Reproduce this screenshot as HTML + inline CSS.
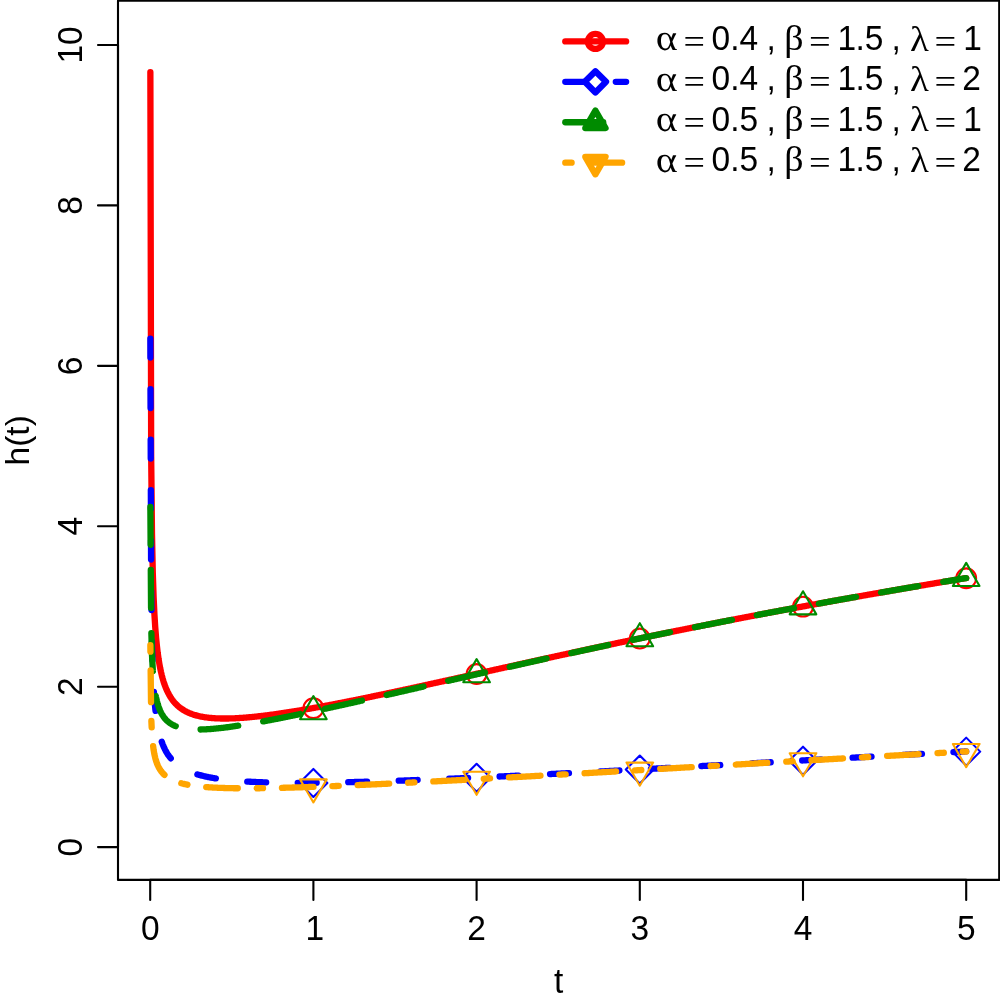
<!DOCTYPE html>
<html lang="en"><head><meta charset="utf-8"><title>h(t)</title>
<style>html,body{margin:0;padding:0;background:#fff}svg{display:block}text{font-family:"Liberation Sans",Arial,Helvetica,sans-serif;font-size:33.50px;fill:#000}.g{font-family:"Liberation Serif","DejaVu Serif",serif}</style></head><body>
<svg width="1000" height="1004" viewBox="0 0 1000 1004">
<rect x="0" y="0" width="1000" height="1004" fill="#ffffff"/>
<g fill="none" stroke-linecap="round" stroke-linejoin="round">
<polyline points="150.36,72.09 151.18,456.69 152.00,534.22 152.81,572.99 153.63,597.38 154.45,614.55 155.26,627.47 156.08,637.64 156.90,645.90 157.71,652.78 158.53,658.62 159.35,663.64 160.16,668.03 160.98,671.89 161.80,675.32 162.61,678.38 163.43,681.15 164.25,683.65 165.06,685.93 165.88,688.02 166.70,689.93 167.51,691.69 168.33,693.32 169.15,694.83 169.96,696.23 170.78,697.53 171.60,698.75 172.41,699.89 173.23,700.95 174.05,701.95 174.86,702.88 175.68,703.77 176.50,704.60 177.31,705.38 178.13,706.12 178.95,706.81 179.76,707.47 180.58,708.09 181.40,708.68 182.21,709.24 183.03,709.77 183.85,710.28 184.66,710.75 185.48,711.20 186.30,711.63 187.11,712.04 187.93,712.43 188.75,712.80 189.56,713.15 190.38,713.48 191.20,713.79 192.01,714.09 192.83,714.38 193.65,714.65 194.46,714.91 195.28,715.15 196.10,715.38 196.91,715.60 197.73,715.81 198.55,716.01 199.36,716.20 200.18,716.38 201.00,716.54 201.81,716.70 202.63,716.85 203.45,717.00 204.26,717.13 205.08,717.26 205.90,717.37 206.71,717.49 207.53,717.59 208.35,717.69 209.16,717.78 209.98,717.86 210.80,717.94 211.61,718.01 212.43,718.08 213.25,718.14 214.06,718.20 214.88,718.25 215.70,718.30 216.51,718.34 217.33,718.38 218.15,718.41 218.96,718.44 219.78,718.46 220.60,718.48 221.41,718.50 222.23,718.51 223.05,718.52 223.86,718.52 224.68,718.52 225.50,718.52 226.31,718.51 227.13,718.50 227.95,718.49 228.76,718.47 229.58,718.45 230.40,718.43 231.21,718.41 232.03,718.38 232.85,718.35 233.66,718.32 234.48,718.28 235.30,718.24 236.11,718.20 236.93,718.16 237.75,718.12 238.56,718.07 239.38,718.02 240.20,717.97 241.01,717.91 241.83,717.86 242.65,717.80 243.46,717.74 244.28,717.68 245.10,717.61 245.91,717.55 246.73,717.48 247.54,717.41 248.36,717.34 249.18,717.26 249.99,717.19 250.81,717.11 251.63,717.03 252.44,716.95 253.26,716.87 254.08,716.79 254.89,716.71 255.71,716.62 256.53,716.53 257.34,716.44 258.16,716.35 258.98,716.26 259.79,716.17 260.61,716.08 261.43,715.98 262.24,715.88 263.06,715.79 263.88,715.69 264.69,715.59 265.51,715.48 266.33,715.38 267.14,715.28 267.96,715.17 268.78,715.07 269.59,714.96 270.41,714.85 271.23,714.74 272.04,714.63 272.86,714.52 273.68,714.41 274.49,714.30 275.31,714.18 276.13,714.07 276.94,713.95 277.76,713.83 278.58,713.72 279.39,713.60 280.21,713.48 281.03,713.36 281.84,713.24 282.66,713.11 283.48,712.99 284.29,712.87 285.11,712.74 285.93,712.62 286.74,712.49 287.56,712.37 288.38,712.24 289.19,712.11 290.01,711.98 290.83,711.85 291.64,711.72 292.46,711.59 293.28,711.46 294.09,711.33 294.91,711.19 295.73,711.06 296.54,710.92 297.36,710.79 298.18,710.65 298.99,710.52 299.81,710.38 300.63,710.24 301.44,710.10 302.26,709.97 303.08,709.83 303.89,709.69 304.71,709.55 305.53,709.40 306.34,709.26 307.16,709.12 307.98,708.98 308.79,708.84 309.61,708.69 310.43,708.55 311.24,708.40 312.06,708.26 312.88,708.11 313.69,707.97 314.51,707.82 315.33,707.67 316.14,707.52 316.96,707.38 317.78,707.23 318.59,707.08 319.41,706.93 320.23,706.78 321.04,706.63 321.86,706.48 322.68,706.33 323.49,706.17 324.31,706.02 325.13,705.87 325.94,705.72 326.76,705.56 327.58,705.41 328.39,705.26 329.21,705.10 330.03,704.95 330.84,704.79 331.66,704.64 332.48,704.48 333.29,704.32 334.11,704.17 334.93,704.01 335.74,703.85 336.56,703.69 337.38,703.54 338.19,703.38 339.01,703.22 339.83,703.06 340.64,702.90 341.46,702.74 342.28,702.58 343.09,702.42 343.91,702.26 344.73,702.10 345.54,701.94 346.36,701.78 347.18,701.61 347.99,701.45 348.81,701.29 349.63,701.13 350.44,700.96 351.26,700.80 352.08,700.64 352.89,700.47 353.71,700.31 354.53,700.14 355.34,699.98 356.16,699.81 356.98,699.65 357.79,699.48 358.61,699.32 359.43,699.15 360.24,698.98 361.06,698.82 361.88,698.65 362.69,698.48 363.51,698.32 364.33,698.15 365.14,697.98 365.96,697.81 366.78,697.64 367.59,697.48 368.41,697.31 369.23,697.14 370.04,696.97 370.86,696.80 371.68,696.63 372.49,696.46 373.31,696.29 374.13,696.12 374.94,695.95 375.76,695.78 376.58,695.61 377.39,695.44 378.21,695.27 379.03,695.10 379.84,694.92 380.66,694.75 381.48,694.58 382.29,694.41 383.11,694.24 383.93,694.06 384.74,693.89 385.56,693.72 386.38,693.55 387.19,693.37 388.01,693.20 388.83,693.03 389.64,692.85 390.46,692.68 391.28,692.50 392.09,692.33 392.91,692.16 393.73,691.98 394.54,691.81 395.36,691.63 396.18,691.46 396.99,691.28 397.81,691.11 398.63,690.93 399.44,690.76 400.26,690.58 401.08,690.40 401.89,690.23 402.71,690.05 403.53,689.88 404.34,689.70 405.16,689.52 405.98,689.35 406.79,689.17 407.61,688.99 408.43,688.82 409.24,688.64 410.06,688.46 410.88,688.29 411.69,688.11 412.51,687.93 413.33,687.75 414.14,687.58 414.96,687.40 415.78,687.22 416.59,687.04 417.41,686.87 418.23,686.69 419.04,686.51 419.86,686.33 420.68,686.15 421.49,685.97 422.31,685.80 423.13,685.62 423.94,685.44 424.76,685.26 425.58,685.08 426.39,684.90 427.21,684.72 428.03,684.54 428.84,684.36 429.66,684.18 430.48,684.00 431.29,683.82 432.11,683.65 432.93,683.47 433.74,683.29 434.56,683.11 435.38,682.93 436.19,682.75 437.01,682.57 437.83,682.39 438.64,682.21 439.46,682.03 440.28,681.85 441.09,681.67 441.91,681.48 442.73,681.30 443.54,681.12 444.36,680.94 445.18,680.76 445.99,680.58 446.81,680.40 447.63,680.22 448.44,680.04 449.26,679.86 450.08,679.68 450.89,679.50 451.71,679.32 452.52,679.14 453.34,678.95 454.16,678.77 454.97,678.59 455.79,678.41 456.61,678.23 457.42,678.05 458.24,677.87 459.06,677.69 459.87,677.51 460.69,677.32 461.51,677.14 462.32,676.96 463.14,676.78 463.96,676.60 464.77,676.42 465.59,676.24 466.41,676.05 467.22,675.87 468.04,675.69 468.86,675.51 469.67,675.33 470.49,675.15 471.31,674.96 472.12,674.78 472.94,674.60 473.76,674.42 474.57,674.24 475.39,674.06 476.21,673.88 477.02,673.69 477.84,673.51 478.66,673.33 479.47,673.15 480.29,672.97 481.11,672.79 481.92,672.60 482.74,672.42 483.56,672.24 484.37,672.06 485.19,671.88 486.01,671.70 486.82,671.51 487.64,671.33 488.46,671.15 489.27,670.97 490.09,670.79 490.91,670.61 491.72,670.42 492.54,670.24 493.36,670.06 494.17,669.88 494.99,669.70 495.81,669.52 496.62,669.33 497.44,669.15 498.26,668.97 499.07,668.79 499.89,668.61 500.71,668.43 501.52,668.25 502.34,668.06 503.16,667.88 503.97,667.70 504.79,667.52 505.61,667.34 506.42,667.16 507.24,666.98 508.06,666.80 508.87,666.61 509.69,666.43 510.51,666.25 511.32,666.07 512.14,665.89 512.96,665.71 513.77,665.53 514.59,665.35 515.41,665.17 516.22,664.99 517.04,664.80 517.86,664.62 518.67,664.44 519.49,664.26 520.31,664.08 521.12,663.90 521.94,663.72 522.76,663.54 523.57,663.36 524.39,663.18 525.21,663.00 526.02,662.82 526.84,662.64 527.66,662.46 528.47,662.28 529.29,662.10 530.11,661.92 530.92,661.74 531.74,661.56 532.56,661.38 533.37,661.20 534.19,661.02 535.01,660.84 535.82,660.66 536.64,660.48 537.46,660.30 538.27,660.12 539.09,659.94 539.91,659.76 540.72,659.58 541.54,659.40 542.36,659.22 543.17,659.04 543.99,658.86 544.81,658.68 545.62,658.50 546.44,658.32 547.26,658.15 548.07,657.97 548.89,657.79 549.71,657.61 550.52,657.43 551.34,657.25 552.16,657.07 552.97,656.89 553.79,656.72 554.61,656.54 555.42,656.36 556.24,656.18 557.06,656.00 557.87,655.82 558.69,655.65 559.51,655.47 560.32,655.29 561.14,655.11 561.96,654.93 562.77,654.76 563.59,654.58 564.41,654.40 565.22,654.22 566.04,654.05 566.86,653.87 567.67,653.69 568.49,653.51 569.31,653.34 570.12,653.16 570.94,652.98 571.76,652.81 572.57,652.63 573.39,652.45 574.21,652.28 575.02,652.10 575.84,651.92 576.66,651.75 577.47,651.57 578.29,651.39 579.11,651.22 579.92,651.04 580.74,650.87 581.56,650.69 582.37,650.51 583.19,650.34 584.01,650.16 584.82,649.99 585.64,649.81 586.46,649.63 587.27,649.46 588.09,649.28 588.91,649.11 589.72,648.93 590.54,648.76 591.36,648.58 592.17,648.41 592.99,648.23 593.81,648.06 594.62,647.88 595.44,647.71 596.26,647.53 597.07,647.36 597.89,647.19 598.71,647.01 599.52,646.84 600.34,646.66 601.16,646.49 601.97,646.32 602.79,646.14 603.61,645.97 604.42,645.79 605.24,645.62 606.06,645.45 606.87,645.27 607.69,645.10 608.51,644.93 609.32,644.75 610.14,644.58 610.96,644.41 611.77,644.24 612.59,644.06 613.41,643.89 614.22,643.72 615.04,643.55 615.86,643.37 616.67,643.20 617.49,643.03 618.31,642.86 619.12,642.68 619.94,642.51 620.76,642.34 621.57,642.17 622.39,642.00 623.21,641.83 624.02,641.65 624.84,641.48 625.66,641.31 626.47,641.14 627.29,640.97 628.11,640.80 628.92,640.63 629.74,640.46 630.56,640.29 631.37,640.12 632.19,639.95 633.01,639.77 633.82,639.60 634.64,639.43 635.46,639.26 636.27,639.09 637.09,638.92 637.91,638.75 638.72,638.58 639.54,638.41 640.36,638.25 641.17,638.08 641.99,637.91 642.81,637.74 643.62,637.57 644.44,637.40 645.26,637.23 646.07,637.06 646.89,636.89 647.71,636.72 648.52,636.56 649.34,636.39 650.16,636.22 650.97,636.05 651.79,635.88 652.61,635.71 653.42,635.55 654.24,635.38 655.06,635.21 655.87,635.04 656.69,634.88 657.50,634.71 658.32,634.54 659.14,634.37 659.95,634.21 660.77,634.04 661.59,633.87 662.40,633.71 663.22,633.54 664.04,633.37 664.85,633.21 665.67,633.04 666.49,632.87 667.30,632.71 668.12,632.54 668.94,632.37 669.75,632.21 670.57,632.04 671.39,631.88 672.20,631.71 673.02,631.54 673.84,631.38 674.65,631.21 675.47,631.05 676.29,630.88 677.10,630.72 677.92,630.55 678.74,630.39 679.55,630.22 680.37,630.06 681.19,629.89 682.00,629.73 682.82,629.57 683.64,629.40 684.45,629.24 685.27,629.07 686.09,628.91 686.90,628.75 687.72,628.58 688.54,628.42 689.35,628.25 690.17,628.09 690.99,627.93 691.80,627.76 692.62,627.60 693.44,627.44 694.25,627.27 695.07,627.11 695.89,626.95 696.70,626.79 697.52,626.62 698.34,626.46 699.15,626.30 699.97,626.14 700.79,625.97 701.60,625.81 702.42,625.65 703.24,625.49 704.05,625.33 704.87,625.17 705.69,625.00 706.50,624.84 707.32,624.68 708.14,624.52 708.95,624.36 709.77,624.20 710.59,624.04 711.40,623.88 712.22,623.71 713.04,623.55 713.85,623.39 714.67,623.23 715.49,623.07 716.30,622.91 717.12,622.75 717.94,622.59 718.75,622.43 719.57,622.27 720.39,622.11 721.20,621.95 722.02,621.79 722.84,621.63 723.65,621.47 724.47,621.31 725.29,621.16 726.10,621.00 726.92,620.84 727.74,620.68 728.55,620.52 729.37,620.36 730.19,620.20 731.00,620.04 731.82,619.89 732.64,619.73 733.45,619.57 734.27,619.41 735.09,619.25 735.90,619.10 736.72,618.94 737.54,618.78 738.35,618.62 739.17,618.46 739.99,618.31 740.80,618.15 741.62,617.99 742.44,617.84 743.25,617.68 744.07,617.52 744.89,617.36 745.70,617.21 746.52,617.05 747.34,616.89 748.15,616.74 748.97,616.58 749.79,616.43 750.60,616.27 751.42,616.11 752.24,615.96 753.05,615.80 753.87,615.65 754.69,615.49 755.50,615.33 756.32,615.18 757.14,615.02 757.95,614.87 758.77,614.71 759.59,614.56 760.40,614.40 761.22,614.25 762.04,614.09 762.85,613.94 763.67,613.78 764.49,613.63 765.30,613.47 766.12,613.32 766.94,613.17 767.75,613.01 768.57,612.86 769.39,612.70 770.20,612.55 771.02,612.40 771.84,612.24 772.65,612.09 773.47,611.94 774.29,611.78 775.10,611.63 775.92,611.48 776.74,611.32 777.55,611.17 778.37,611.02 779.19,610.86 780.00,610.71 780.82,610.56 781.64,610.41 782.45,610.25 783.27,610.10 784.09,609.95 784.90,609.80 785.72,609.64 786.54,609.49 787.35,609.34 788.17,609.19 788.99,609.04 789.80,608.88 790.62,608.73 791.44,608.58 792.25,608.43 793.07,608.28 793.89,608.13 794.70,607.98 795.52,607.83 796.34,607.67 797.15,607.52 797.97,607.37 798.79,607.22 799.60,607.07 800.42,606.92 801.24,606.77 802.05,606.62 802.87,606.47 803.69,606.32 804.50,606.17 805.32,606.02 806.14,605.87 806.95,605.72 807.77,605.57 808.59,605.42 809.40,605.27 810.22,605.12 811.04,604.97 811.85,604.82 812.67,604.67 813.49,604.52 814.30,604.38 815.12,604.23 815.94,604.08 816.75,603.93 817.57,603.78 818.39,603.63 819.20,603.48 820.02,603.34 820.84,603.19 821.65,603.04 822.47,602.89 823.29,602.74 824.10,602.60 824.92,602.45 825.74,602.30 826.55,602.15 827.37,602.00 828.19,601.86 829.00,601.71 829.82,601.56 830.64,601.41 831.45,601.27 832.27,601.12 833.09,600.97 833.90,600.83 834.72,600.68 835.54,600.53 836.35,600.39 837.17,600.24 837.99,600.09 838.80,599.95 839.62,599.80 840.44,599.65 841.25,599.51 842.07,599.36 842.89,599.22 843.70,599.07 844.52,598.92 845.34,598.78 846.15,598.63 846.97,598.49 847.79,598.34 848.60,598.20 849.42,598.05 850.24,597.91 851.05,597.76 851.87,597.62 852.69,597.47 853.50,597.33 854.32,597.18 855.14,597.04 855.95,596.89 856.77,596.75 857.59,596.60 858.40,596.46 859.22,596.31 860.04,596.17 860.85,596.03 861.67,595.88 862.49,595.74 863.30,595.59 864.12,595.45 864.93,595.31 865.75,595.16 866.57,595.02 867.38,594.87 868.20,594.73 869.02,594.59 869.83,594.44 870.65,594.30 871.47,594.16 872.28,594.02 873.10,593.87 873.92,593.73 874.73,593.59 875.55,593.44 876.37,593.30 877.18,593.16 878.00,593.02 878.82,592.87 879.63,592.73 880.45,592.59 881.27,592.45 882.08,592.31 882.90,592.16 883.72,592.02 884.53,591.88 885.35,591.74 886.17,591.60 886.98,591.45 887.80,591.31 888.62,591.17 889.43,591.03 890.25,590.89 891.07,590.75 891.88,590.61 892.70,590.46 893.52,590.32 894.33,590.18 895.15,590.04 895.97,589.90 896.78,589.76 897.60,589.62 898.42,589.48 899.23,589.34 900.05,589.20 900.87,589.06 901.68,588.92 902.50,588.78 903.32,588.64 904.13,588.50 904.95,588.36 905.77,588.22 906.58,588.08 907.40,587.94 908.22,587.80 909.03,587.66 909.85,587.52 910.67,587.38 911.48,587.24 912.30,587.10 913.12,586.96 913.93,586.82 914.75,586.68 915.57,586.54 916.38,586.41 917.20,586.27 918.02,586.13 918.83,585.99 919.65,585.85 920.47,585.71 921.28,585.57 922.10,585.44 922.92,585.30 923.73,585.16 924.55,585.02 925.37,584.88 926.18,584.74 927.00,584.61 927.82,584.47 928.63,584.33 929.45,584.19 930.27,584.06 931.08,583.92 931.90,583.78 932.72,583.64 933.53,583.51 934.35,583.37 935.17,583.23 935.98,583.09 936.80,582.96 937.62,582.82 938.43,582.68 939.25,582.55 940.07,582.41 940.88,582.27 941.70,582.14 942.52,582.00 943.33,581.86 944.15,581.73 944.97,581.59 945.78,581.45 946.60,581.32 947.42,581.18 948.23,581.04 949.05,580.91 949.87,580.77 950.68,580.64 951.50,580.50 952.32,580.36 953.13,580.23 953.95,580.09 954.77,579.96 955.58,579.82 956.40,579.69 957.22,579.55 958.03,579.42 958.85,579.28 959.67,579.15 960.48,579.01 961.30,578.88 962.12,578.74 962.93,578.61 963.75,578.47 964.57,578.34 965.38,578.20 966.20,578.07" stroke="#ff0000" stroke-width="6.313"/>
<circle cx="313.40" cy="708.22" r="9.90" fill="none" stroke="#ff0000" stroke-width="2.104" stroke-linejoin="round" stroke-linecap="round"/>
<circle cx="476.60" cy="673.99" r="9.90" fill="none" stroke="#ff0000" stroke-width="2.104" stroke-linejoin="round" stroke-linecap="round"/>
<circle cx="639.80" cy="638.56" r="9.90" fill="none" stroke="#ff0000" stroke-width="2.104" stroke-linejoin="round" stroke-linecap="round"/>
<circle cx="803.00" cy="606.65" r="9.90" fill="none" stroke="#ff0000" stroke-width="2.104" stroke-linejoin="round" stroke-linecap="round"/>
<circle cx="966.20" cy="578.27" r="9.90" fill="none" stroke="#ff0000" stroke-width="2.104" stroke-linejoin="round" stroke-linecap="round"/>
<polyline points="150.36,338.56 151.18,593.67 152.00,645.48 152.81,671.54 153.63,688.03 154.45,699.69 155.26,708.52 156.08,715.51 156.90,721.22 157.71,726.00 158.53,730.08 159.35,733.61 160.16,736.71 160.98,739.45 161.80,741.91 162.61,744.12 163.43,746.12 164.25,747.95 165.06,749.62 165.88,751.16 166.70,752.59 167.51,753.91 168.33,755.14 169.15,756.28 169.96,757.36 170.78,758.36 171.60,759.31 172.41,760.20 173.23,761.04 174.05,761.84 174.86,762.60 175.68,763.31 176.50,763.99 177.31,764.64 178.13,765.26 178.95,765.85 179.76,766.41 180.58,766.95 181.40,767.46 182.21,767.95 183.03,768.42 183.85,768.88 184.66,769.31 185.48,769.73 186.30,770.13 187.11,770.52 187.93,770.89 188.75,771.25 189.56,771.60 190.38,771.93 191.20,772.25 192.01,772.56 192.83,772.87 193.65,773.16 194.46,773.44 195.28,773.71 196.10,773.97 196.91,774.23 197.73,774.48 198.55,774.71 199.36,774.95 200.18,775.17 201.00,775.39 201.81,775.60 202.63,775.81 203.45,776.01 204.26,776.20 205.08,776.39 205.90,776.57 206.71,776.75 207.53,776.92 208.35,777.09 209.16,777.25 209.98,777.41 210.80,777.57 211.61,777.72 212.43,777.86 213.25,778.01 214.06,778.14 214.88,778.28 215.70,778.41 216.51,778.54 217.33,778.66 218.15,778.78 218.96,778.90 219.78,779.02 220.60,779.13 221.41,779.24 222.23,779.35 223.05,779.45 223.86,779.55 224.68,779.65 225.50,779.75 226.31,779.84 227.13,779.93 227.95,780.02 228.76,780.11 229.58,780.19 230.40,780.27 231.21,780.35 232.03,780.43 232.85,780.51 233.66,780.58 234.48,780.65 235.30,780.73 236.11,780.79 236.93,780.86 237.75,780.93 238.56,780.99 239.38,781.05 240.20,781.11 241.01,781.17 241.83,781.23 242.65,781.29 243.46,781.34 244.28,781.39 245.10,781.45 245.91,781.50 246.73,781.55 247.54,781.59 248.36,781.64 249.18,781.69 249.99,781.73 250.81,781.77 251.63,781.81 252.44,781.85 253.26,781.89 254.08,781.93 254.89,781.97 255.71,782.01 256.53,782.04 257.34,782.08 258.16,782.11 258.98,782.14 259.79,782.17 260.61,782.20 261.43,782.23 262.24,782.26 263.06,782.29 263.88,782.31 264.69,782.34 265.51,782.36 266.33,782.39 267.14,782.41 267.96,782.43 268.78,782.46 269.59,782.48 270.41,782.50 271.23,782.52 272.04,782.54 272.86,782.55 273.68,782.57 274.49,782.59 275.31,782.60 276.13,782.62 276.94,782.63 277.76,782.65 278.58,782.66 279.39,782.67 280.21,782.69 281.03,782.70 281.84,782.71 282.66,782.72 283.48,782.73 284.29,782.74 285.11,782.74 285.93,782.75 286.74,782.76 287.56,782.77 288.38,782.77 289.19,782.78 290.01,782.78 290.83,782.79 291.64,782.79 292.46,782.80 293.28,782.80 294.09,782.80 294.91,782.81 295.73,782.81 296.54,782.81 297.36,782.81 298.18,782.81 298.99,782.81 299.81,782.81 300.63,782.81 301.44,782.81 302.26,782.81 303.08,782.80 303.89,782.80 304.71,782.80 305.53,782.80 306.34,782.79 307.16,782.79 307.98,782.78 308.79,782.78 309.61,782.77 310.43,782.77 311.24,782.76 312.06,782.76 312.88,782.75 313.69,782.74 314.51,782.73 315.33,782.73 316.14,782.72 316.96,782.71 317.78,782.70 318.59,782.69 319.41,782.68 320.23,782.67 321.04,782.66 321.86,782.65 322.68,782.64 323.49,782.63 324.31,782.62 325.13,782.61 325.94,782.60 326.76,782.59 327.58,782.57 328.39,782.56 329.21,782.55 330.03,782.54 330.84,782.52 331.66,782.51 332.48,782.50 333.29,782.48 334.11,782.47 334.93,782.45 335.74,782.44 336.56,782.42 337.38,782.41 338.19,782.39 339.01,782.38 339.83,782.36 340.64,782.34 341.46,782.33 342.28,782.31 343.09,782.29 343.91,782.27 344.73,782.26 345.54,782.24 346.36,782.22 347.18,782.20 347.99,782.19 348.81,782.17 349.63,782.15 350.44,782.13 351.26,782.11 352.08,782.09 352.89,782.07 353.71,782.05 354.53,782.03 355.34,782.01 356.16,781.99 356.98,781.97 357.79,781.95 358.61,781.93 359.43,781.91 360.24,781.89 361.06,781.86 361.88,781.84 362.69,781.82 363.51,781.80 364.33,781.78 365.14,781.75 365.96,781.73 366.78,781.71 367.59,781.69 368.41,781.66 369.23,781.64 370.04,781.62 370.86,781.59 371.68,781.57 372.49,781.54 373.31,781.52 374.13,781.50 374.94,781.47 375.76,781.45 376.58,781.42 377.39,781.40 378.21,781.37 379.03,781.35 379.84,781.32 380.66,781.30 381.48,781.27 382.29,781.25 383.11,781.22 383.93,781.19 384.74,781.17 385.56,781.14 386.38,781.12 387.19,781.09 388.01,781.06 388.83,781.04 389.64,781.01 390.46,780.98 391.28,780.95 392.09,780.93 392.91,780.90 393.73,780.87 394.54,780.84 395.36,780.82 396.18,780.79 396.99,780.76 397.81,780.73 398.63,780.70 399.44,780.68 400.26,780.65 401.08,780.62 401.89,780.59 402.71,780.56 403.53,780.53 404.34,780.50 405.16,780.47 405.98,780.44 406.79,780.41 407.61,780.38 408.43,780.35 409.24,780.33 410.06,780.30 410.88,780.27 411.69,780.24 412.51,780.20 413.33,780.17 414.14,780.14 414.96,780.11 415.78,780.08 416.59,780.05 417.41,780.02 418.23,779.99 419.04,779.96 419.86,779.93 420.68,779.90 421.49,779.87 422.31,779.83 423.13,779.80 423.94,779.77 424.76,779.74 425.58,779.71 426.39,779.68 427.21,779.64 428.03,779.61 428.84,779.58 429.66,779.55 430.48,779.51 431.29,779.48 432.11,779.45 432.93,779.42 433.74,779.38 434.56,779.35 435.38,779.32 436.19,779.29 437.01,779.25 437.83,779.22 438.64,779.19 439.46,779.15 440.28,779.12 441.09,779.09 441.91,779.05 442.73,779.02 443.54,778.98 444.36,778.95 445.18,778.92 445.99,778.88 446.81,778.85 447.63,778.82 448.44,778.78 449.26,778.75 450.08,778.71 450.89,778.68 451.71,778.64 452.52,778.61 453.34,778.57 454.16,778.54 454.97,778.50 455.79,778.47 456.61,778.44 457.42,778.40 458.24,778.36 459.06,778.33 459.87,778.29 460.69,778.26 461.51,778.22 462.32,778.19 463.14,778.15 463.96,778.12 464.77,778.08 465.59,778.05 466.41,778.01 467.22,777.97 468.04,777.94 468.86,777.90 469.67,777.87 470.49,777.83 471.31,777.79 472.12,777.76 472.94,777.72 473.76,777.69 474.57,777.65 475.39,777.61 476.21,777.58 477.02,777.54 477.84,777.50 478.66,777.47 479.47,777.43 480.29,777.39 481.11,777.36 481.92,777.32 482.74,777.28 483.56,777.25 484.37,777.21 485.19,777.17 486.01,777.13 486.82,777.10 487.64,777.06 488.46,777.02 489.27,776.98 490.09,776.95 490.91,776.91 491.72,776.87 492.54,776.83 493.36,776.80 494.17,776.76 494.99,776.72 495.81,776.68 496.62,776.64 497.44,776.61 498.26,776.57 499.07,776.53 499.89,776.49 500.71,776.45 501.52,776.42 502.34,776.38 503.16,776.34 503.97,776.30 504.79,776.26 505.61,776.22 506.42,776.19 507.24,776.15 508.06,776.11 508.87,776.07 509.69,776.03 510.51,775.99 511.32,775.95 512.14,775.91 512.96,775.88 513.77,775.84 514.59,775.80 515.41,775.76 516.22,775.72 517.04,775.68 517.86,775.64 518.67,775.60 519.49,775.56 520.31,775.52 521.12,775.48 521.94,775.44 522.76,775.41 523.57,775.37 524.39,775.33 525.21,775.29 526.02,775.25 526.84,775.21 527.66,775.17 528.47,775.13 529.29,775.09 530.11,775.05 530.92,775.01 531.74,774.97 532.56,774.93 533.37,774.89 534.19,774.85 535.01,774.81 535.82,774.77 536.64,774.73 537.46,774.69 538.27,774.65 539.09,774.61 539.91,774.57 540.72,774.53 541.54,774.49 542.36,774.45 543.17,774.41 543.99,774.36 544.81,774.32 545.62,774.28 546.44,774.24 547.26,774.20 548.07,774.16 548.89,774.12 549.71,774.08 550.52,774.04 551.34,774.00 552.16,773.96 552.97,773.92 553.79,773.88 554.61,773.83 555.42,773.79 556.24,773.75 557.06,773.71 557.87,773.67 558.69,773.63 559.51,773.59 560.32,773.55 561.14,773.51 561.96,773.46 562.77,773.42 563.59,773.38 564.41,773.34 565.22,773.30 566.04,773.26 566.86,773.22 567.67,773.17 568.49,773.13 569.31,773.09 570.12,773.05 570.94,773.01 571.76,772.97 572.57,772.93 573.39,772.88 574.21,772.84 575.02,772.80 575.84,772.76 576.66,772.72 577.47,772.67 578.29,772.63 579.11,772.59 579.92,772.55 580.74,772.51 581.56,772.46 582.37,772.42 583.19,772.38 584.01,772.34 584.82,772.30 585.64,772.25 586.46,772.21 587.27,772.17 588.09,772.13 588.91,772.09 589.72,772.04 590.54,772.00 591.36,771.96 592.17,771.92 592.99,771.87 593.81,771.83 594.62,771.79 595.44,771.75 596.26,771.70 597.07,771.66 597.89,771.62 598.71,771.58 599.52,771.53 600.34,771.49 601.16,771.45 601.97,771.41 602.79,771.36 603.61,771.32 604.42,771.28 605.24,771.23 606.06,771.19 606.87,771.15 607.69,771.11 608.51,771.06 609.32,771.02 610.14,770.98 610.96,770.93 611.77,770.89 612.59,770.85 613.41,770.81 614.22,770.76 615.04,770.72 615.86,770.68 616.67,770.63 617.49,770.59 618.31,770.55 619.12,770.50 619.94,770.46 620.76,770.42 621.57,770.37 622.39,770.33 623.21,770.29 624.02,770.24 624.84,770.20 625.66,770.16 626.47,770.11 627.29,770.07 628.11,770.03 628.92,769.98 629.74,769.94 630.56,769.90 631.37,769.85 632.19,769.81 633.01,769.77 633.82,769.72 634.64,769.68 635.46,769.64 636.27,769.59 637.09,769.55 637.91,769.51 638.72,769.46 639.54,769.42 640.36,769.37 641.17,769.33 641.99,769.29 642.81,769.24 643.62,769.20 644.44,769.16 645.26,769.11 646.07,769.07 646.89,769.02 647.71,768.98 648.52,768.94 649.34,768.89 650.16,768.85 650.97,768.81 651.79,768.76 652.61,768.72 653.42,768.67 654.24,768.63 655.06,768.59 655.87,768.54 656.69,768.50 657.50,768.45 658.32,768.41 659.14,768.37 659.95,768.32 660.77,768.28 661.59,768.23 662.40,768.19 663.22,768.14 664.04,768.10 664.85,768.06 665.67,768.01 666.49,767.97 667.30,767.92 668.12,767.88 668.94,767.84 669.75,767.79 670.57,767.75 671.39,767.70 672.20,767.66 673.02,767.61 673.84,767.57 674.65,767.52 675.47,767.48 676.29,767.44 677.10,767.39 677.92,767.35 678.74,767.30 679.55,767.26 680.37,767.21 681.19,767.17 682.00,767.13 682.82,767.08 683.64,767.04 684.45,766.99 685.27,766.95 686.09,766.90 686.90,766.86 687.72,766.81 688.54,766.77 689.35,766.72 690.17,766.68 690.99,766.63 691.80,766.59 692.62,766.55 693.44,766.50 694.25,766.46 695.07,766.41 695.89,766.37 696.70,766.32 697.52,766.28 698.34,766.23 699.15,766.19 699.97,766.14 700.79,766.10 701.60,766.05 702.42,766.01 703.24,765.96 704.05,765.92 704.87,765.87 705.69,765.83 706.50,765.79 707.32,765.74 708.14,765.70 708.95,765.65 709.77,765.61 710.59,765.56 711.40,765.52 712.22,765.47 713.04,765.43 713.85,765.38 714.67,765.34 715.49,765.29 716.30,765.25 717.12,765.20 717.94,765.16 718.75,765.11 719.57,765.07 720.39,765.02 721.20,764.98 722.02,764.93 722.84,764.89 723.65,764.84 724.47,764.80 725.29,764.75 726.10,764.71 726.92,764.66 727.74,764.62 728.55,764.57 729.37,764.53 730.19,764.48 731.00,764.44 731.82,764.39 732.64,764.35 733.45,764.30 734.27,764.26 735.09,764.21 735.90,764.17 736.72,764.12 737.54,764.08 738.35,764.03 739.17,763.99 739.99,763.94 740.80,763.90 741.62,763.85 742.44,763.81 743.25,763.76 744.07,763.71 744.89,763.67 745.70,763.62 746.52,763.58 747.34,763.53 748.15,763.49 748.97,763.44 749.79,763.40 750.60,763.35 751.42,763.31 752.24,763.26 753.05,763.22 753.87,763.17 754.69,763.13 755.50,763.08 756.32,763.04 757.14,762.99 757.95,762.95 758.77,762.90 759.59,762.86 760.40,762.81 761.22,762.76 762.04,762.72 762.85,762.67 763.67,762.63 764.49,762.58 765.30,762.54 766.12,762.49 766.94,762.45 767.75,762.40 768.57,762.36 769.39,762.31 770.20,762.27 771.02,762.22 771.84,762.18 772.65,762.13 773.47,762.09 774.29,762.04 775.10,761.99 775.92,761.95 776.74,761.90 777.55,761.86 778.37,761.81 779.19,761.77 780.00,761.72 780.82,761.68 781.64,761.63 782.45,761.59 783.27,761.54 784.09,761.50 784.90,761.45 785.72,761.40 786.54,761.36 787.35,761.31 788.17,761.27 788.99,761.22 789.80,761.18 790.62,761.13 791.44,761.09 792.25,761.04 793.07,761.00 793.89,760.95 794.70,760.91 795.52,760.86 796.34,760.81 797.15,760.77 797.97,760.72 798.79,760.68 799.60,760.63 800.42,760.59 801.24,760.54 802.05,760.50 802.87,760.45 803.69,760.41 804.50,760.36 805.32,760.31 806.14,760.27 806.95,760.22 807.77,760.18 808.59,760.13 809.40,760.09 810.22,760.04 811.04,760.00 811.85,759.95 812.67,759.91 813.49,759.86 814.30,759.82 815.12,759.77 815.94,759.72 816.75,759.68 817.57,759.63 818.39,759.59 819.20,759.54 820.02,759.50 820.84,759.45 821.65,759.41 822.47,759.36 823.29,759.32 824.10,759.27 824.92,759.22 825.74,759.18 826.55,759.13 827.37,759.09 828.19,759.04 829.00,759.00 829.82,758.95 830.64,758.91 831.45,758.86 832.27,758.82 833.09,758.77 833.90,758.73 834.72,758.68 835.54,758.63 836.35,758.59 837.17,758.54 837.99,758.50 838.80,758.45 839.62,758.41 840.44,758.36 841.25,758.32 842.07,758.27 842.89,758.23 843.70,758.18 844.52,758.14 845.34,758.09 846.15,758.04 846.97,758.00 847.79,757.95 848.60,757.91 849.42,757.86 850.24,757.82 851.05,757.77 851.87,757.73 852.69,757.68 853.50,757.64 854.32,757.59 855.14,757.55 855.95,757.50 856.77,757.46 857.59,757.41 858.40,757.36 859.22,757.32 860.04,757.27 860.85,757.23 861.67,757.18 862.49,757.14 863.30,757.09 864.12,757.05 864.93,757.00 865.75,756.96 866.57,756.91 867.38,756.87 868.20,756.82 869.02,756.78 869.83,756.73 870.65,756.69 871.47,756.64 872.28,756.59 873.10,756.55 873.92,756.50 874.73,756.46 875.55,756.41 876.37,756.37 877.18,756.32 878.00,756.28 878.82,756.23 879.63,756.19 880.45,756.14 881.27,756.10 882.08,756.05 882.90,756.01 883.72,755.96 884.53,755.92 885.35,755.87 886.17,755.83 886.98,755.78 887.80,755.74 888.62,755.69 889.43,755.64 890.25,755.60 891.07,755.55 891.88,755.51 892.70,755.46 893.52,755.42 894.33,755.37 895.15,755.33 895.97,755.28 896.78,755.24 897.60,755.19 898.42,755.15 899.23,755.10 900.05,755.06 900.87,755.01 901.68,754.97 902.50,754.92 903.32,754.88 904.13,754.83 904.95,754.79 905.77,754.74 906.58,754.70 907.40,754.65 908.22,754.61 909.03,754.56 909.85,754.52 910.67,754.47 911.48,754.43 912.30,754.38 913.12,754.34 913.93,754.29 914.75,754.25 915.57,754.20 916.38,754.16 917.20,754.11 918.02,754.07 918.83,754.02 919.65,753.98 920.47,753.93 921.28,753.89 922.10,753.84 922.92,753.80 923.73,753.75 924.55,753.71 925.37,753.66 926.18,753.62 927.00,753.57 927.82,753.53 928.63,753.48 929.45,753.44 930.27,753.39 931.08,753.35 931.90,753.30 932.72,753.26 933.53,753.21 934.35,753.17 935.17,753.12 935.98,753.08 936.80,753.03 937.62,752.99 938.43,752.95 939.25,752.90 940.07,752.86 940.88,752.81 941.70,752.77 942.52,752.72 943.33,752.68 944.15,752.63 944.97,752.59 945.78,752.54 946.60,752.50 947.42,752.45 948.23,752.41 949.05,752.36 949.87,752.32 950.68,752.27 951.50,752.23 952.32,752.18 953.13,752.14 953.95,752.10 954.77,752.05 955.58,752.01 956.40,751.96 957.22,751.92 958.03,751.87 958.85,751.83 959.67,751.78 960.48,751.74 961.30,751.69 962.12,751.65 962.93,751.60 963.75,751.56 964.57,751.52 965.38,751.47 966.20,751.43" stroke="#0000ff" stroke-width="6.313" stroke-dasharray="18.938 31.563" stroke-dashoffset="0.00"/>
<path d="M299.40 782.94L313.40 768.94L327.40 782.94L313.40 796.95Z" fill="none" stroke="#0000ff" stroke-width="2.104" stroke-linejoin="round" stroke-linecap="round"/>
<path d="M462.60 777.76L476.60 763.76L490.60 777.76L476.60 791.76Z" fill="none" stroke="#0000ff" stroke-width="2.104" stroke-linejoin="round" stroke-linecap="round"/>
<path d="M625.80 769.60L639.80 755.60L653.80 769.60L639.80 783.61Z" fill="none" stroke="#0000ff" stroke-width="2.104" stroke-linejoin="round" stroke-linecap="round"/>
<path d="M789.00 760.64L803.00 746.64L817.00 760.64L803.00 774.64Z" fill="none" stroke="#0000ff" stroke-width="2.104" stroke-linejoin="round" stroke-linecap="round"/>
<path d="M952.20 751.63L966.20 737.63L980.20 751.63L966.20 765.63Z" fill="none" stroke="#0000ff" stroke-width="2.104" stroke-linejoin="round" stroke-linecap="round"/>
<polyline points="150.36,506.90 151.18,626.30 152.00,655.01 152.81,670.29 153.63,680.26 154.45,687.46 155.26,692.97 156.08,697.37 156.90,700.97 157.71,704.00 158.53,706.58 159.35,708.81 160.16,710.76 160.98,712.47 161.80,713.99 162.61,715.36 163.43,716.58 164.25,717.68 165.06,718.68 165.88,719.60 166.70,720.43 167.51,721.19 168.33,721.88 169.15,722.52 169.96,723.11 170.78,723.65 171.60,724.16 172.41,724.62 173.23,725.05 174.05,725.44 174.86,725.81 175.68,726.15 176.50,726.46 177.31,726.75 178.13,727.02 178.95,727.27 179.76,727.50 180.58,727.72 181.40,727.91 182.21,728.09 183.03,728.26 183.85,728.41 184.66,728.55 185.48,728.68 186.30,728.80 187.11,728.90 187.93,729.00 188.75,729.08 189.56,729.16 190.38,729.23 191.20,729.29 192.01,729.34 192.83,729.38 193.65,729.42 194.46,729.45 195.28,729.47 196.10,729.49 196.91,729.50 197.73,729.51 198.55,729.51 199.36,729.50 200.18,729.49 201.00,729.48 201.81,729.46 202.63,729.43 203.45,729.41 204.26,729.37 205.08,729.34 205.90,729.30 206.71,729.25 207.53,729.20 208.35,729.15 209.16,729.10 209.98,729.04 210.80,728.98 211.61,728.92 212.43,728.85 213.25,728.78 214.06,728.71 214.88,728.63 215.70,728.56 216.51,728.48 217.33,728.40 218.15,728.31 218.96,728.22 219.78,728.14 220.60,728.04 221.41,727.95 222.23,727.86 223.05,727.76 223.86,727.66 224.68,727.56 225.50,727.46 226.31,727.35 227.13,727.25 227.95,727.14 228.76,727.03 229.58,726.92 230.40,726.81 231.21,726.70 232.03,726.58 232.85,726.47 233.66,726.35 234.48,726.23 235.30,726.11 236.11,725.99 236.93,725.86 237.75,725.74 238.56,725.62 239.38,725.49 240.20,725.36 241.01,725.23 241.83,725.10 242.65,724.97 243.46,724.84 244.28,724.71 245.10,724.58 245.91,724.44 246.73,724.31 247.54,724.17 248.36,724.03 249.18,723.89 249.99,723.75 250.81,723.61 251.63,723.47 252.44,723.33 253.26,723.19 254.08,723.05 254.89,722.90 255.71,722.76 256.53,722.61 257.34,722.47 258.16,722.32 258.98,722.17 259.79,722.03 260.61,721.88 261.43,721.73 262.24,721.58 263.06,721.43 263.88,721.28 264.69,721.12 265.51,720.97 266.33,720.82 267.14,720.66 267.96,720.51 268.78,720.36 269.59,720.20 270.41,720.04 271.23,719.89 272.04,719.73 272.86,719.57 273.68,719.42 274.49,719.26 275.31,719.10 276.13,718.94 276.94,718.78 277.76,718.62 278.58,718.46 279.39,718.30 280.21,718.14 281.03,717.98 281.84,717.81 282.66,717.65 283.48,717.49 284.29,717.32 285.11,717.16 285.93,717.00 286.74,716.83 287.56,716.67 288.38,716.50 289.19,716.33 290.01,716.17 290.83,716.00 291.64,715.83 292.46,715.67 293.28,715.50 294.09,715.33 294.91,715.16 295.73,715.00 296.54,714.83 297.36,714.66 298.18,714.49 298.99,714.32 299.81,714.15 300.63,713.98 301.44,713.81 302.26,713.64 303.08,713.47 303.89,713.29 304.71,713.12 305.53,712.95 306.34,712.78 307.16,712.61 307.98,712.43 308.79,712.26 309.61,712.09 310.43,711.91 311.24,711.74 312.06,711.56 312.88,711.39 313.69,711.22 314.51,711.04 315.33,710.87 316.14,710.69 316.96,710.52 317.78,710.34 318.59,710.16 319.41,709.99 320.23,709.81 321.04,709.63 321.86,709.46 322.68,709.28 323.49,709.10 324.31,708.93 325.13,708.75 325.94,708.57 326.76,708.39 327.58,708.22 328.39,708.04 329.21,707.86 330.03,707.68 330.84,707.50 331.66,707.32 332.48,707.14 333.29,706.96 334.11,706.78 334.93,706.61 335.74,706.43 336.56,706.25 337.38,706.07 338.19,705.88 339.01,705.70 339.83,705.52 340.64,705.34 341.46,705.16 342.28,704.98 343.09,704.80 343.91,704.62 344.73,704.44 345.54,704.26 346.36,704.07 347.18,703.89 347.99,703.71 348.81,703.53 349.63,703.35 350.44,703.16 351.26,702.98 352.08,702.80 352.89,702.62 353.71,702.43 354.53,702.25 355.34,702.07 356.16,701.88 356.98,701.70 357.79,701.52 358.61,701.33 359.43,701.15 360.24,700.97 361.06,700.78 361.88,700.60 362.69,700.41 363.51,700.23 364.33,700.05 365.14,699.86 365.96,699.68 366.78,699.49 367.59,699.31 368.41,699.12 369.23,698.94 370.04,698.75 370.86,698.57 371.68,698.38 372.49,698.20 373.31,698.01 374.13,697.83 374.94,697.64 375.76,697.46 376.58,697.27 377.39,697.09 378.21,696.90 379.03,696.71 379.84,696.53 380.66,696.34 381.48,696.16 382.29,695.97 383.11,695.78 383.93,695.60 384.74,695.41 385.56,695.23 386.38,695.04 387.19,694.85 388.01,694.67 388.83,694.48 389.64,694.29 390.46,694.11 391.28,693.92 392.09,693.73 392.91,693.55 393.73,693.36 394.54,693.17 395.36,692.99 396.18,692.80 396.99,692.61 397.81,692.42 398.63,692.24 399.44,692.05 400.26,691.86 401.08,691.68 401.89,691.49 402.71,691.30 403.53,691.11 404.34,690.93 405.16,690.74 405.98,690.55 406.79,690.36 407.61,690.18 408.43,689.99 409.24,689.80 410.06,689.61 410.88,689.43 411.69,689.24 412.51,689.05 413.33,688.86 414.14,688.68 414.96,688.49 415.78,688.30 416.59,688.11 417.41,687.92 418.23,687.74 419.04,687.55 419.86,687.36 420.68,687.17 421.49,686.98 422.31,686.80 423.13,686.61 423.94,686.42 424.76,686.23 425.58,686.04 426.39,685.86 427.21,685.67 428.03,685.48 428.84,685.29 429.66,685.11 430.48,684.92 431.29,684.73 432.11,684.54 432.93,684.35 433.74,684.16 434.56,683.98 435.38,683.79 436.19,683.60 437.01,683.41 437.83,683.22 438.64,683.04 439.46,682.85 440.28,682.66 441.09,682.47 441.91,682.28 442.73,682.10 443.54,681.91 444.36,681.72 445.18,681.53 445.99,681.35 446.81,681.16 447.63,680.97 448.44,680.78 449.26,680.59 450.08,680.41 450.89,680.22 451.71,680.03 452.52,679.84 453.34,679.65 454.16,679.47 454.97,679.28 455.79,679.09 456.61,678.90 457.42,678.72 458.24,678.53 459.06,678.34 459.87,678.15 460.69,677.97 461.51,677.78 462.32,677.59 463.14,677.40 463.96,677.22 464.77,677.03 465.59,676.84 466.41,676.65 467.22,676.47 468.04,676.28 468.86,676.09 469.67,675.90 470.49,675.72 471.31,675.53 472.12,675.34 472.94,675.16 473.76,674.97 474.57,674.78 475.39,674.59 476.21,674.41 477.02,674.22 477.84,674.03 478.66,673.85 479.47,673.66 480.29,673.47 481.11,673.29 481.92,673.10 482.74,672.91 483.56,672.73 484.37,672.54 485.19,672.35 486.01,672.17 486.82,671.98 487.64,671.79 488.46,671.61 489.27,671.42 490.09,671.24 490.91,671.05 491.72,670.86 492.54,670.68 493.36,670.49 494.17,670.31 494.99,670.12 495.81,669.93 496.62,669.75 497.44,669.56 498.26,669.38 499.07,669.19 499.89,669.01 500.71,668.82 501.52,668.63 502.34,668.45 503.16,668.26 503.97,668.08 504.79,667.89 505.61,667.71 506.42,667.52 507.24,667.34 508.06,667.15 508.87,666.97 509.69,666.78 510.51,666.60 511.32,666.41 512.14,666.23 512.96,666.05 513.77,665.86 514.59,665.68 515.41,665.49 516.22,665.31 517.04,665.12 517.86,664.94 518.67,664.76 519.49,664.57 520.31,664.39 521.12,664.20 521.94,664.02 522.76,663.84 523.57,663.65 524.39,663.47 525.21,663.29 526.02,663.10 526.84,662.92 527.66,662.74 528.47,662.55 529.29,662.37 530.11,662.19 530.92,662.00 531.74,661.82 532.56,661.64 533.37,661.46 534.19,661.27 535.01,661.09 535.82,660.91 536.64,660.72 537.46,660.54 538.27,660.36 539.09,660.18 539.91,660.00 540.72,659.81 541.54,659.63 542.36,659.45 543.17,659.27 543.99,659.09 544.81,658.91 545.62,658.72 546.44,658.54 547.26,658.36 548.07,658.18 548.89,658.00 549.71,657.82 550.52,657.64 551.34,657.46 552.16,657.27 552.97,657.09 553.79,656.91 554.61,656.73 555.42,656.55 556.24,656.37 557.06,656.19 557.87,656.01 558.69,655.83 559.51,655.65 560.32,655.47 561.14,655.29 561.96,655.11 562.77,654.93 563.59,654.75 564.41,654.57 565.22,654.39 566.04,654.21 566.86,654.03 567.67,653.86 568.49,653.68 569.31,653.50 570.12,653.32 570.94,653.14 571.76,652.96 572.57,652.78 573.39,652.60 574.21,652.43 575.02,652.25 575.84,652.07 576.66,651.89 577.47,651.71 578.29,651.53 579.11,651.36 579.92,651.18 580.74,651.00 581.56,650.82 582.37,650.65 583.19,650.47 584.01,650.29 584.82,650.11 585.64,649.94 586.46,649.76 587.27,649.58 588.09,649.41 588.91,649.23 589.72,649.05 590.54,648.88 591.36,648.70 592.17,648.52 592.99,648.35 593.81,648.17 594.62,648.00 595.44,647.82 596.26,647.64 597.07,647.47 597.89,647.29 598.71,647.12 599.52,646.94 600.34,646.77 601.16,646.59 601.97,646.42 602.79,646.24 603.61,646.07 604.42,645.89 605.24,645.72 606.06,645.54 606.87,645.37 607.69,645.19 608.51,645.02 609.32,644.85 610.14,644.67 610.96,644.50 611.77,644.32 612.59,644.15 613.41,643.98 614.22,643.80 615.04,643.63 615.86,643.46 616.67,643.28 617.49,643.11 618.31,642.94 619.12,642.76 619.94,642.59 620.76,642.42 621.57,642.24 622.39,642.07 623.21,641.90 624.02,641.73 624.84,641.56 625.66,641.38 626.47,641.21 627.29,641.04 628.11,640.87 628.92,640.70 629.74,640.52 630.56,640.35 631.37,640.18 632.19,640.01 633.01,639.84 633.82,639.67 634.64,639.50 635.46,639.33 636.27,639.16 637.09,638.98 637.91,638.81 638.72,638.64 639.54,638.47 640.36,638.30 641.17,638.13 641.99,637.96 642.81,637.79 643.62,637.62 644.44,637.45 645.26,637.28 646.07,637.11 646.89,636.94 647.71,636.78 648.52,636.61 649.34,636.44 650.16,636.27 650.97,636.10 651.79,635.93 652.61,635.76 653.42,635.59 654.24,635.42 655.06,635.26 655.87,635.09 656.69,634.92 657.50,634.75 658.32,634.58 659.14,634.42 659.95,634.25 660.77,634.08 661.59,633.91 662.40,633.75 663.22,633.58 664.04,633.41 664.85,633.24 665.67,633.08 666.49,632.91 667.30,632.74 668.12,632.58 668.94,632.41 669.75,632.24 670.57,632.08 671.39,631.91 672.20,631.75 673.02,631.58 673.84,631.41 674.65,631.25 675.47,631.08 676.29,630.92 677.10,630.75 677.92,630.59 678.74,630.42 679.55,630.26 680.37,630.09 681.19,629.93 682.00,629.76 682.82,629.60 683.64,629.43 684.45,629.27 685.27,629.10 686.09,628.94 686.90,628.77 687.72,628.61 688.54,628.45 689.35,628.28 690.17,628.12 690.99,627.95 691.80,627.79 692.62,627.63 693.44,627.46 694.25,627.30 695.07,627.14 695.89,626.97 696.70,626.81 697.52,626.65 698.34,626.48 699.15,626.32 699.97,626.16 700.79,626.00 701.60,625.83 702.42,625.67 703.24,625.51 704.05,625.35 704.87,625.19 705.69,625.02 706.50,624.86 707.32,624.70 708.14,624.54 708.95,624.38 709.77,624.22 710.59,624.06 711.40,623.89 712.22,623.73 713.04,623.57 713.85,623.41 714.67,623.25 715.49,623.09 716.30,622.93 717.12,622.77 717.94,622.61 718.75,622.45 719.57,622.29 720.39,622.13 721.20,621.97 722.02,621.81 722.84,621.65 723.65,621.49 724.47,621.33 725.29,621.17 726.10,621.01 726.92,620.85 727.74,620.69 728.55,620.53 729.37,620.38 730.19,620.22 731.00,620.06 731.82,619.90 732.64,619.74 733.45,619.58 734.27,619.42 735.09,619.27 735.90,619.11 736.72,618.95 737.54,618.79 738.35,618.63 739.17,618.48 739.99,618.32 740.80,618.16 741.62,618.00 742.44,617.85 743.25,617.69 744.07,617.53 744.89,617.38 745.70,617.22 746.52,617.06 747.34,616.91 748.15,616.75 748.97,616.59 749.79,616.44 750.60,616.28 751.42,616.12 752.24,615.97 753.05,615.81 753.87,615.65 754.69,615.50 755.50,615.34 756.32,615.19 757.14,615.03 757.95,614.88 758.77,614.72 759.59,614.57 760.40,614.41 761.22,614.26 762.04,614.10 762.85,613.95 763.67,613.79 764.49,613.64 765.30,613.48 766.12,613.33 766.94,613.17 767.75,613.02 768.57,612.86 769.39,612.71 770.20,612.56 771.02,612.40 771.84,612.25 772.65,612.10 773.47,611.94 774.29,611.79 775.10,611.63 775.92,611.48 776.74,611.33 777.55,611.18 778.37,611.02 779.19,610.87 780.00,610.72 780.82,610.56 781.64,610.41 782.45,610.26 783.27,610.11 784.09,609.95 784.90,609.80 785.72,609.65 786.54,609.50 787.35,609.34 788.17,609.19 788.99,609.04 789.80,608.89 790.62,608.74 791.44,608.59 792.25,608.43 793.07,608.28 793.89,608.13 794.70,607.98 795.52,607.83 796.34,607.68 797.15,607.53 797.97,607.38 798.79,607.23 799.60,607.08 800.42,606.92 801.24,606.77 802.05,606.62 802.87,606.47 803.69,606.32 804.50,606.17 805.32,606.02 806.14,605.87 806.95,605.72 807.77,605.57 808.59,605.42 809.40,605.27 810.22,605.13 811.04,604.98 811.85,604.83 812.67,604.68 813.49,604.53 814.30,604.38 815.12,604.23 815.94,604.08 816.75,603.93 817.57,603.78 818.39,603.64 819.20,603.49 820.02,603.34 820.84,603.19 821.65,603.04 822.47,602.89 823.29,602.75 824.10,602.60 824.92,602.45 825.74,602.30 826.55,602.15 827.37,602.01 828.19,601.86 829.00,601.71 829.82,601.56 830.64,601.42 831.45,601.27 832.27,601.12 833.09,600.98 833.90,600.83 834.72,600.68 835.54,600.54 836.35,600.39 837.17,600.24 837.99,600.10 838.80,599.95 839.62,599.80 840.44,599.66 841.25,599.51 842.07,599.36 842.89,599.22 843.70,599.07 844.52,598.93 845.34,598.78 846.15,598.63 846.97,598.49 847.79,598.34 848.60,598.20 849.42,598.05 850.24,597.91 851.05,597.76 851.87,597.62 852.69,597.47 853.50,597.33 854.32,597.18 855.14,597.04 855.95,596.89 856.77,596.75 857.59,596.60 858.40,596.46 859.22,596.32 860.04,596.17 860.85,596.03 861.67,595.88 862.49,595.74 863.30,595.59 864.12,595.45 864.93,595.31 865.75,595.16 866.57,595.02 867.38,594.88 868.20,594.73 869.02,594.59 869.83,594.45 870.65,594.30 871.47,594.16 872.28,594.02 873.10,593.87 873.92,593.73 874.73,593.59 875.55,593.45 876.37,593.30 877.18,593.16 878.00,593.02 878.82,592.87 879.63,592.73 880.45,592.59 881.27,592.45 882.08,592.31 882.90,592.16 883.72,592.02 884.53,591.88 885.35,591.74 886.17,591.60 886.98,591.45 887.80,591.31 888.62,591.17 889.43,591.03 890.25,590.89 891.07,590.75 891.88,590.61 892.70,590.47 893.52,590.32 894.33,590.18 895.15,590.04 895.97,589.90 896.78,589.76 897.60,589.62 898.42,589.48 899.23,589.34 900.05,589.20 900.87,589.06 901.68,588.92 902.50,588.78 903.32,588.64 904.13,588.50 904.95,588.36 905.77,588.22 906.58,588.08 907.40,587.94 908.22,587.80 909.03,587.66 909.85,587.52 910.67,587.38 911.48,587.24 912.30,587.10 913.12,586.96 913.93,586.82 914.75,586.68 915.57,586.55 916.38,586.41 917.20,586.27 918.02,586.13 918.83,585.99 919.65,585.85 920.47,585.71 921.28,585.57 922.10,585.44 922.92,585.30 923.73,585.16 924.55,585.02 925.37,584.88 926.18,584.74 927.00,584.61 927.82,584.47 928.63,584.33 929.45,584.19 930.27,584.06 931.08,583.92 931.90,583.78 932.72,583.64 933.53,583.51 934.35,583.37 935.17,583.23 935.98,583.09 936.80,582.96 937.62,582.82 938.43,582.68 939.25,582.55 940.07,582.41 940.88,582.27 941.70,582.14 942.52,582.00 943.33,581.86 944.15,581.73 944.97,581.59 945.78,581.45 946.60,581.32 947.42,581.18 948.23,581.04 949.05,580.91 949.87,580.77 950.68,580.64 951.50,580.50 952.32,580.36 953.13,580.23 953.95,580.09 954.77,579.96 955.58,579.82 956.40,579.69 957.22,579.55 958.03,579.42 958.85,579.28 959.67,579.15 960.48,579.01 961.30,578.88 962.12,578.74 962.93,578.61 963.75,578.47 964.57,578.34 965.38,578.20 966.20,578.07" stroke="#008b00" stroke-width="6.313" stroke-dasharray="37.875 25.250" stroke-dashoffset="0.00"/>
<path d="M313.40 696.08L326.73 719.18L300.07 719.18Z" fill="none" stroke="#008b00" stroke-width="2.104" stroke-linejoin="round" stroke-linecap="round"/>
<path d="M476.60 659.12L489.93 682.22L463.27 682.22Z" fill="none" stroke="#008b00" stroke-width="2.104" stroke-linejoin="round" stroke-linecap="round"/>
<path d="M639.80 623.22L653.13 646.32L626.47 646.32Z" fill="none" stroke="#008b00" stroke-width="2.104" stroke-linejoin="round" stroke-linecap="round"/>
<path d="M803.00 591.25L816.33 614.35L789.67 614.35Z" fill="none" stroke="#008b00" stroke-width="2.104" stroke-linejoin="round" stroke-linecap="round"/>
<path d="M966.20 562.87L979.53 585.96L952.87 585.96Z" fill="none" stroke="#008b00" stroke-width="2.104" stroke-linejoin="round" stroke-linecap="round"/>
<polyline points="150.36,645.28 151.18,716.95 152.00,734.43 152.81,743.84 153.63,750.05 154.45,754.57 155.26,758.08 156.08,760.91 156.90,763.26 157.71,765.25 158.53,766.96 159.35,768.46 160.16,769.79 160.98,770.97 161.80,772.03 162.61,773.00 163.43,773.87 164.25,774.67 165.06,775.41 165.88,776.09 166.70,776.72 167.51,777.30 168.33,777.85 169.15,778.36 169.96,778.84 170.78,779.28 171.60,779.70 172.41,780.10 173.23,780.48 174.05,780.83 174.86,781.16 175.68,781.48 176.50,781.78 177.31,782.07 178.13,782.34 178.95,782.60 179.76,782.84 180.58,783.08 181.40,783.30 182.21,783.52 183.03,783.72 183.85,783.92 184.66,784.11 185.48,784.29 186.30,784.46 187.11,784.62 187.93,784.78 188.75,784.93 189.56,785.08 190.38,785.22 191.20,785.35 192.01,785.48 192.83,785.60 193.65,785.72 194.46,785.84 195.28,785.95 196.10,786.05 196.91,786.15 197.73,786.25 198.55,786.35 199.36,786.44 200.18,786.52 201.00,786.61 201.81,786.69 202.63,786.77 203.45,786.84 204.26,786.91 205.08,786.98 205.90,787.05 206.71,787.11 207.53,787.17 208.35,787.23 209.16,787.29 209.98,787.34 210.80,787.40 211.61,787.45 212.43,787.50 213.25,787.54 214.06,787.59 214.88,787.63 215.70,787.67 216.51,787.71 217.33,787.75 218.15,787.78 218.96,787.82 219.78,787.85 220.60,787.88 221.41,787.91 222.23,787.94 223.05,787.97 223.86,788.00 224.68,788.02 225.50,788.04 226.31,788.07 227.13,788.09 227.95,788.11 228.76,788.13 229.58,788.14 230.40,788.16 231.21,788.18 232.03,788.19 232.85,788.20 233.66,788.22 234.48,788.23 235.30,788.24 236.11,788.25 236.93,788.26 237.75,788.27 238.56,788.27 239.38,788.28 240.20,788.29 241.01,788.29 241.83,788.29 242.65,788.30 243.46,788.30 244.28,788.30 245.10,788.30 245.91,788.30 246.73,788.30 247.54,788.30 248.36,788.30 249.18,788.30 249.99,788.30 250.81,788.29 251.63,788.29 252.44,788.29 253.26,788.28 254.08,788.27 254.89,788.27 255.71,788.26 256.53,788.25 257.34,788.25 258.16,788.24 258.98,788.23 259.79,788.22 260.61,788.21 261.43,788.20 262.24,788.19 263.06,788.18 263.88,788.17 264.69,788.15 265.51,788.14 266.33,788.13 267.14,788.12 267.96,788.10 268.78,788.09 269.59,788.07 270.41,788.06 271.23,788.04 272.04,788.03 272.86,788.01 273.68,788.00 274.49,787.98 275.31,787.96 276.13,787.94 276.94,787.93 277.76,787.91 278.58,787.89 279.39,787.87 280.21,787.85 281.03,787.83 281.84,787.81 282.66,787.79 283.48,787.77 284.29,787.75 285.11,787.73 285.93,787.71 286.74,787.69 287.56,787.67 288.38,787.64 289.19,787.62 290.01,787.60 290.83,787.58 291.64,787.55 292.46,787.53 293.28,787.51 294.09,787.48 294.91,787.46 295.73,787.44 296.54,787.41 297.36,787.39 298.18,787.36 298.99,787.34 299.81,787.31 300.63,787.28 301.44,787.26 302.26,787.23 303.08,787.21 303.89,787.18 304.71,787.15 305.53,787.13 306.34,787.10 307.16,787.07 307.98,787.04 308.79,787.02 309.61,786.99 310.43,786.96 311.24,786.93 312.06,786.90 312.88,786.88 313.69,786.85 314.51,786.82 315.33,786.79 316.14,786.76 316.96,786.73 317.78,786.70 318.59,786.67 319.41,786.64 320.23,786.61 321.04,786.58 321.86,786.55 322.68,786.52 323.49,786.49 324.31,786.46 325.13,786.43 325.94,786.40 326.76,786.36 327.58,786.33 328.39,786.30 329.21,786.27 330.03,786.24 330.84,786.21 331.66,786.17 332.48,786.14 333.29,786.11 334.11,786.08 334.93,786.04 335.74,786.01 336.56,785.98 337.38,785.94 338.19,785.91 339.01,785.88 339.83,785.84 340.64,785.81 341.46,785.78 342.28,785.74 343.09,785.71 343.91,785.68 344.73,785.64 345.54,785.61 346.36,785.57 347.18,785.54 347.99,785.50 348.81,785.47 349.63,785.43 350.44,785.40 351.26,785.36 352.08,785.33 352.89,785.29 353.71,785.26 354.53,785.22 355.34,785.19 356.16,785.15 356.98,785.12 357.79,785.08 358.61,785.04 359.43,785.01 360.24,784.97 361.06,784.94 361.88,784.90 362.69,784.86 363.51,784.83 364.33,784.79 365.14,784.75 365.96,784.72 366.78,784.68 367.59,784.64 368.41,784.61 369.23,784.57 370.04,784.53 370.86,784.50 371.68,784.46 372.49,784.42 373.31,784.38 374.13,784.35 374.94,784.31 375.76,784.27 376.58,784.23 377.39,784.20 378.21,784.16 379.03,784.12 379.84,784.08 380.66,784.04 381.48,784.00 382.29,783.97 383.11,783.93 383.93,783.89 384.74,783.85 385.56,783.81 386.38,783.77 387.19,783.74 388.01,783.70 388.83,783.66 389.64,783.62 390.46,783.58 391.28,783.54 392.09,783.50 392.91,783.46 393.73,783.42 394.54,783.38 395.36,783.35 396.18,783.31 396.99,783.27 397.81,783.23 398.63,783.19 399.44,783.15 400.26,783.11 401.08,783.07 401.89,783.03 402.71,782.99 403.53,782.95 404.34,782.91 405.16,782.87 405.98,782.83 406.79,782.79 407.61,782.75 408.43,782.71 409.24,782.67 410.06,782.63 410.88,782.59 411.69,782.55 412.51,782.51 413.33,782.46 414.14,782.42 414.96,782.38 415.78,782.34 416.59,782.30 417.41,782.26 418.23,782.22 419.04,782.18 419.86,782.14 420.68,782.10 421.49,782.06 422.31,782.01 423.13,781.97 423.94,781.93 424.76,781.89 425.58,781.85 426.39,781.81 427.21,781.77 428.03,781.73 428.84,781.68 429.66,781.64 430.48,781.60 431.29,781.56 432.11,781.52 432.93,781.48 433.74,781.43 434.56,781.39 435.38,781.35 436.19,781.31 437.01,781.27 437.83,781.22 438.64,781.18 439.46,781.14 440.28,781.10 441.09,781.06 441.91,781.01 442.73,780.97 443.54,780.93 444.36,780.89 445.18,780.84 445.99,780.80 446.81,780.76 447.63,780.72 448.44,780.68 449.26,780.63 450.08,780.59 450.89,780.55 451.71,780.50 452.52,780.46 453.34,780.42 454.16,780.38 454.97,780.33 455.79,780.29 456.61,780.25 457.42,780.21 458.24,780.16 459.06,780.12 459.87,780.08 460.69,780.03 461.51,779.99 462.32,779.95 463.14,779.90 463.96,779.86 464.77,779.82 465.59,779.77 466.41,779.73 467.22,779.69 468.04,779.64 468.86,779.60 469.67,779.56 470.49,779.51 471.31,779.47 472.12,779.43 472.94,779.38 473.76,779.34 474.57,779.30 475.39,779.25 476.21,779.21 477.02,779.17 477.84,779.12 478.66,779.08 479.47,779.04 480.29,778.99 481.11,778.95 481.92,778.90 482.74,778.86 483.56,778.82 484.37,778.77 485.19,778.73 486.01,778.68 486.82,778.64 487.64,778.60 488.46,778.55 489.27,778.51 490.09,778.46 490.91,778.42 491.72,778.38 492.54,778.33 493.36,778.29 494.17,778.24 494.99,778.20 495.81,778.16 496.62,778.11 497.44,778.07 498.26,778.02 499.07,777.98 499.89,777.93 500.71,777.89 501.52,777.84 502.34,777.80 503.16,777.76 503.97,777.71 504.79,777.67 505.61,777.62 506.42,777.58 507.24,777.53 508.06,777.49 508.87,777.44 509.69,777.40 510.51,777.35 511.32,777.31 512.14,777.26 512.96,777.22 513.77,777.18 514.59,777.13 515.41,777.09 516.22,777.04 517.04,777.00 517.86,776.95 518.67,776.91 519.49,776.86 520.31,776.82 521.12,776.77 521.94,776.73 522.76,776.68 523.57,776.64 524.39,776.59 525.21,776.55 526.02,776.50 526.84,776.46 527.66,776.41 528.47,776.37 529.29,776.32 530.11,776.28 530.92,776.23 531.74,776.19 532.56,776.14 533.37,776.09 534.19,776.05 535.01,776.00 535.82,775.96 536.64,775.91 537.46,775.87 538.27,775.82 539.09,775.78 539.91,775.73 540.72,775.69 541.54,775.64 542.36,775.60 543.17,775.55 543.99,775.51 544.81,775.46 545.62,775.41 546.44,775.37 547.26,775.32 548.07,775.28 548.89,775.23 549.71,775.19 550.52,775.14 551.34,775.10 552.16,775.05 552.97,775.00 553.79,774.96 554.61,774.91 555.42,774.87 556.24,774.82 557.06,774.78 557.87,774.73 558.69,774.68 559.51,774.64 560.32,774.59 561.14,774.55 561.96,774.50 562.77,774.46 563.59,774.41 564.41,774.36 565.22,774.32 566.04,774.27 566.86,774.23 567.67,774.18 568.49,774.13 569.31,774.09 570.12,774.04 570.94,774.00 571.76,773.95 572.57,773.90 573.39,773.86 574.21,773.81 575.02,773.77 575.84,773.72 576.66,773.67 577.47,773.63 578.29,773.58 579.11,773.54 579.92,773.49 580.74,773.44 581.56,773.40 582.37,773.35 583.19,773.31 584.01,773.26 584.82,773.21 585.64,773.17 586.46,773.12 587.27,773.07 588.09,773.03 588.91,772.98 589.72,772.94 590.54,772.89 591.36,772.84 592.17,772.80 592.99,772.75 593.81,772.70 594.62,772.66 595.44,772.61 596.26,772.57 597.07,772.52 597.89,772.47 598.71,772.43 599.52,772.38 600.34,772.33 601.16,772.29 601.97,772.24 602.79,772.20 603.61,772.15 604.42,772.10 605.24,772.06 606.06,772.01 606.87,771.96 607.69,771.92 608.51,771.87 609.32,771.82 610.14,771.78 610.96,771.73 611.77,771.68 612.59,771.64 613.41,771.59 614.22,771.54 615.04,771.50 615.86,771.45 616.67,771.41 617.49,771.36 618.31,771.31 619.12,771.27 619.94,771.22 620.76,771.17 621.57,771.13 622.39,771.08 623.21,771.03 624.02,770.99 624.84,770.94 625.66,770.89 626.47,770.85 627.29,770.80 628.11,770.75 628.92,770.71 629.74,770.66 630.56,770.61 631.37,770.57 632.19,770.52 633.01,770.47 633.82,770.43 634.64,770.38 635.46,770.33 636.27,770.29 637.09,770.24 637.91,770.19 638.72,770.15 639.54,770.10 640.36,770.05 641.17,770.01 641.99,769.96 642.81,769.91 643.62,769.87 644.44,769.82 645.26,769.77 646.07,769.72 646.89,769.68 647.71,769.63 648.52,769.58 649.34,769.54 650.16,769.49 650.97,769.44 651.79,769.40 652.61,769.35 653.42,769.30 654.24,769.26 655.06,769.21 655.87,769.16 656.69,769.12 657.50,769.07 658.32,769.02 659.14,768.98 659.95,768.93 660.77,768.88 661.59,768.84 662.40,768.79 663.22,768.74 664.04,768.69 664.85,768.65 665.67,768.60 666.49,768.55 667.30,768.51 668.12,768.46 668.94,768.41 669.75,768.37 670.57,768.32 671.39,768.27 672.20,768.23 673.02,768.18 673.84,768.13 674.65,768.08 675.47,768.04 676.29,767.99 677.10,767.94 677.92,767.90 678.74,767.85 679.55,767.80 680.37,767.76 681.19,767.71 682.00,767.66 682.82,767.62 683.64,767.57 684.45,767.52 685.27,767.47 686.09,767.43 686.90,767.38 687.72,767.33 688.54,767.29 689.35,767.24 690.17,767.19 690.99,767.15 691.80,767.10 692.62,767.05 693.44,767.00 694.25,766.96 695.07,766.91 695.89,766.86 696.70,766.82 697.52,766.77 698.34,766.72 699.15,766.68 699.97,766.63 700.79,766.58 701.60,766.53 702.42,766.49 703.24,766.44 704.05,766.39 704.87,766.35 705.69,766.30 706.50,766.25 707.32,766.21 708.14,766.16 708.95,766.11 709.77,766.06 710.59,766.02 711.40,765.97 712.22,765.92 713.04,765.88 713.85,765.83 714.67,765.78 715.49,765.74 716.30,765.69 717.12,765.64 717.94,765.59 718.75,765.55 719.57,765.50 720.39,765.45 721.20,765.41 722.02,765.36 722.84,765.31 723.65,765.27 724.47,765.22 725.29,765.17 726.10,765.12 726.92,765.08 727.74,765.03 728.55,764.98 729.37,764.94 730.19,764.89 731.00,764.84 731.82,764.80 732.64,764.75 733.45,764.70 734.27,764.65 735.09,764.61 735.90,764.56 736.72,764.51 737.54,764.47 738.35,764.42 739.17,764.37 739.99,764.33 740.80,764.28 741.62,764.23 742.44,764.18 743.25,764.14 744.07,764.09 744.89,764.04 745.70,764.00 746.52,763.95 747.34,763.90 748.15,763.86 748.97,763.81 749.79,763.76 750.60,763.72 751.42,763.67 752.24,763.62 753.05,763.57 753.87,763.53 754.69,763.48 755.50,763.43 756.32,763.39 757.14,763.34 757.95,763.29 758.77,763.25 759.59,763.20 760.40,763.15 761.22,763.10 762.04,763.06 762.85,763.01 763.67,762.96 764.49,762.92 765.30,762.87 766.12,762.82 766.94,762.78 767.75,762.73 768.57,762.68 769.39,762.64 770.20,762.59 771.02,762.54 771.84,762.50 772.65,762.45 773.47,762.40 774.29,762.35 775.10,762.31 775.92,762.26 776.74,762.21 777.55,762.17 778.37,762.12 779.19,762.07 780.00,762.03 780.82,761.98 781.64,761.93 782.45,761.89 783.27,761.84 784.09,761.79 784.90,761.75 785.72,761.70 786.54,761.65 787.35,761.60 788.17,761.56 788.99,761.51 789.80,761.46 790.62,761.42 791.44,761.37 792.25,761.32 793.07,761.28 793.89,761.23 794.70,761.18 795.52,761.14 796.34,761.09 797.15,761.04 797.97,761.00 798.79,760.95 799.60,760.90 800.42,760.86 801.24,760.81 802.05,760.76 802.87,760.72 803.69,760.67 804.50,760.62 805.32,760.58 806.14,760.53 806.95,760.48 807.77,760.44 808.59,760.39 809.40,760.34 810.22,760.30 811.04,760.25 811.85,760.20 812.67,760.16 813.49,760.11 814.30,760.06 815.12,760.02 815.94,759.97 816.75,759.92 817.57,759.88 818.39,759.83 819.20,759.78 820.02,759.74 820.84,759.69 821.65,759.64 822.47,759.60 823.29,759.55 824.10,759.50 824.92,759.46 825.74,759.41 826.55,759.36 827.37,759.32 828.19,759.27 829.00,759.22 829.82,759.18 830.64,759.13 831.45,759.08 832.27,759.04 833.09,758.99 833.90,758.94 834.72,758.90 835.54,758.85 836.35,758.81 837.17,758.76 837.99,758.71 838.80,758.67 839.62,758.62 840.44,758.57 841.25,758.53 842.07,758.48 842.89,758.43 843.70,758.39 844.52,758.34 845.34,758.29 846.15,758.25 846.97,758.20 847.79,758.15 848.60,758.11 849.42,758.06 850.24,758.02 851.05,757.97 851.87,757.92 852.69,757.88 853.50,757.83 854.32,757.78 855.14,757.74 855.95,757.69 856.77,757.65 857.59,757.60 858.40,757.55 859.22,757.51 860.04,757.46 860.85,757.41 861.67,757.37 862.49,757.32 863.30,757.27 864.12,757.23 864.93,757.18 865.75,757.14 866.57,757.09 867.38,757.04 868.20,757.00 869.02,756.95 869.83,756.91 870.65,756.86 871.47,756.81 872.28,756.77 873.10,756.72 873.92,756.67 874.73,756.63 875.55,756.58 876.37,756.54 877.18,756.49 878.00,756.44 878.82,756.40 879.63,756.35 880.45,756.31 881.27,756.26 882.08,756.21 882.90,756.17 883.72,756.12 884.53,756.08 885.35,756.03 886.17,755.98 886.98,755.94 887.80,755.89 888.62,755.85 889.43,755.80 890.25,755.75 891.07,755.71 891.88,755.66 892.70,755.62 893.52,755.57 894.33,755.52 895.15,755.48 895.97,755.43 896.78,755.39 897.60,755.34 898.42,755.29 899.23,755.25 900.05,755.20 900.87,755.16 901.68,755.11 902.50,755.06 903.32,755.02 904.13,754.97 904.95,754.93 905.77,754.88 906.58,754.84 907.40,754.79 908.22,754.74 909.03,754.70 909.85,754.65 910.67,754.61 911.48,754.56 912.30,754.52 913.12,754.47 913.93,754.42 914.75,754.38 915.57,754.33 916.38,754.29 917.20,754.24 918.02,754.20 918.83,754.15 919.65,754.10 920.47,754.06 921.28,754.01 922.10,753.97 922.92,753.92 923.73,753.88 924.55,753.83 925.37,753.78 926.18,753.74 927.00,753.69 927.82,753.65 928.63,753.60 929.45,753.56 930.27,753.51 931.08,753.47 931.90,753.42 932.72,753.38 933.53,753.33 934.35,753.28 935.17,753.24 935.98,753.19 936.80,753.15 937.62,753.10 938.43,753.06 939.25,753.01 940.07,752.97 940.88,752.92 941.70,752.88 942.52,752.83 943.33,752.78 944.15,752.74 944.97,752.69 945.78,752.65 946.60,752.60 947.42,752.56 948.23,752.51 949.05,752.47 949.87,752.42 950.68,752.38 951.50,752.33 952.32,752.29 953.13,752.24 953.95,752.20 954.77,752.15 955.58,752.11 956.40,752.06 957.22,752.02 958.03,751.97 958.85,751.93 959.67,751.88 960.48,751.83 961.30,751.79 962.12,751.74 962.93,751.70 963.75,751.65 964.57,751.61 965.38,751.56 966.20,751.52" stroke="#ffa500" stroke-width="6.313" stroke-dasharray="6.313 18.938 31.563 18.938" stroke-dashoffset="0.00"/>
<path d="M313.40 802.45L326.73 779.36L300.07 779.36Z" fill="none" stroke="#ffa500" stroke-width="2.104" stroke-linejoin="round" stroke-linecap="round"/>
<path d="M476.60 794.78L489.93 771.69L463.27 771.69Z" fill="none" stroke="#ffa500" stroke-width="2.104" stroke-linejoin="round" stroke-linecap="round"/>
<path d="M639.80 785.68L653.13 762.59L626.47 762.59Z" fill="none" stroke="#ffa500" stroke-width="2.104" stroke-linejoin="round" stroke-linecap="round"/>
<path d="M803.00 776.30L816.33 753.21L789.67 753.21Z" fill="none" stroke="#ffa500" stroke-width="2.104" stroke-linejoin="round" stroke-linecap="round"/>
<path d="M966.20 767.12L979.53 744.02L952.87 744.02Z" fill="none" stroke="#ffa500" stroke-width="2.104" stroke-linejoin="round" stroke-linecap="round"/>
</g>
<g stroke="#000" stroke-width="2.104" fill="none" stroke-linecap="round" stroke-linejoin="round">
<rect x="118.0" y="0.75" width="881.20" height="879.15"/>
<path d="M150.20 879.9H966.20M150.20 879.9v20M313.40 879.9v20M476.60 879.9v20M639.80 879.9v20M803.00 879.9v20M966.20 879.9v20"/>
<path d="M118.0 847.10V45.00M118.0 847.10h-20M118.0 686.68h-20M118.0 526.26h-20M118.0 365.84h-20M118.0 205.42h-20M118.0 45.00h-20"/>
</g>
<text transform="translate(150.20,940.25) scale(1,1.045)" text-anchor="middle">0</text>
<text transform="translate(314.90,940.25) scale(1,1.045)" text-anchor="middle">1</text>
<text transform="translate(476.60,940.25) scale(1,1.045)" text-anchor="middle">2</text>
<text transform="translate(639.80,940.25) scale(1,1.045)" text-anchor="middle">3</text>
<text transform="translate(803.00,940.25) scale(1,1.045)" text-anchor="middle">4</text>
<text transform="translate(966.20,940.25) scale(1,1.045)" text-anchor="middle">5</text>
<text transform="translate(81.60,847.10) rotate(-90) scale(1,1.045)" text-anchor="middle">0</text>
<text transform="translate(81.60,686.68) rotate(-90) scale(1,1.045)" text-anchor="middle">2</text>
<text transform="translate(81.60,526.26) rotate(-90) scale(1,1.045)" text-anchor="middle">4</text>
<text transform="translate(81.60,365.84) rotate(-90) scale(1,1.045)" text-anchor="middle">6</text>
<text transform="translate(81.60,205.42) rotate(-90) scale(1,1.045)" text-anchor="middle">8</text>
<text transform="translate(81.60,45.00) rotate(-90) scale(1,1.045)" text-anchor="middle">10</text>
<text transform="translate(558.60,992.60) scale(1,1.06)" text-anchor="middle">t</text>
<text transform="translate(29.10,440.32) rotate(-90) scale(1,1.0)" text-anchor="middle">h(t)</text>
<g fill="none" stroke-linecap="round" stroke-linejoin="round">
<path d="M565.3 41.45H626.1" stroke="#ff0000" stroke-width="6.313"/>
<path d="M565.3 81.85H626.1" stroke="#0000ff" stroke-width="6.313" stroke-dasharray="18.938 31.563"/>
<path d="M565.3 122.25H626.1" stroke="#008b00" stroke-width="6.313" stroke-dasharray="37.875 25.250"/>
<path d="M565.3 162.65H626.1" stroke="#ffa500" stroke-width="6.313" stroke-dasharray="6.313 18.938 31.563 18.938"/>
<circle cx="595.40" cy="41.45" r="7.50" fill="none" stroke="#ff0000" stroke-width="6.313" stroke-linejoin="round" stroke-linecap="round"/>
<path d="M584.79 81.85L595.40 71.24L606.01 81.85L595.40 92.46Z" fill="none" stroke="#0000ff" stroke-width="6.313" stroke-linejoin="round" stroke-linecap="round"/>
<path d="M595.40 110.59L605.50 128.08L585.30 128.08Z" fill="none" stroke="#008b00" stroke-width="6.313" stroke-linejoin="round" stroke-linecap="round"/>
<path d="M588.4 124.45H602.4" stroke="#008b00" stroke-width="3"/>
<path d="M595.40 174.31L605.50 156.82L585.30 156.82Z" fill="none" stroke="#ffa500" stroke-width="6.313" stroke-linejoin="round" stroke-linecap="round"/>
<path d="M588.4 160.45H602.4" stroke="#ffa500" stroke-width="3"/>
</g>
<text transform="translate(658.01,50.44) scale(1.1194,1) skewX(12)" style="font-family:'Liberation Serif',serif;font-size:36.48px;font-style:italic">α</text>
<text transform="translate(784.13,50.07) scale(1.0731,1)" style="font-family:'Liberation Serif',serif;font-size:35.42px">β</text>
<text transform="translate(910.03,50.50) scale(1.0968,1)" style="font-family:'Liberation Serif',serif;font-size:35.46px">λ</text>
<text transform="translate(683.50,53.02) scale(1.1605,1)" style="font-family:'Liberation Serif',serif;font-size:32.80px">=</text>
<text transform="translate(809.08,53.02) scale(1.1736,1)" style="font-family:'Liberation Serif',serif;font-size:32.80px">=</text>
<text transform="translate(934.38,53.02) scale(1.1736,1)" style="font-family:'Liberation Serif',serif;font-size:32.80px">=</text>
<text transform="translate(711.60,50.00) scale(1,1.045)">0.4</text>
<text transform="translate(766.48,50.00) scale(1,1.045)">,</text>
<text transform="translate(837.60,50.00) scale(1,1.045)">1</text>
<text transform="translate(855.43,50.00) scale(1,1.045)">.5</text>
<text transform="translate(891.48,50.00) scale(1,1.045)">,</text>
<text transform="translate(963.20,50.00) scale(1,1.045)">1</text>
<text transform="translate(658.01,90.84) scale(1.1194,1) skewX(12)" style="font-family:'Liberation Serif',serif;font-size:36.48px;font-style:italic">α</text>
<text transform="translate(784.13,90.47) scale(1.0731,1)" style="font-family:'Liberation Serif',serif;font-size:35.42px">β</text>
<text transform="translate(910.03,90.90) scale(1.0968,1)" style="font-family:'Liberation Serif',serif;font-size:35.46px">λ</text>
<text transform="translate(683.50,93.02) scale(1.1605,1)" style="font-family:'Liberation Serif',serif;font-size:32.80px">=</text>
<text transform="translate(809.08,93.02) scale(1.1736,1)" style="font-family:'Liberation Serif',serif;font-size:32.80px">=</text>
<text transform="translate(934.38,93.02) scale(1.1736,1)" style="font-family:'Liberation Serif',serif;font-size:32.80px">=</text>
<text transform="translate(711.60,90.40) scale(1,1.045)">0.4</text>
<text transform="translate(766.48,90.40) scale(1,1.045)">,</text>
<text transform="translate(837.60,90.40) scale(1,1.045)">1</text>
<text transform="translate(855.43,90.40) scale(1,1.045)">.5</text>
<text transform="translate(891.48,90.40) scale(1,1.045)">,</text>
<text transform="translate(962.20,90.40) scale(1,1.045)">2</text>
<text transform="translate(658.01,131.24) scale(1.1194,1) skewX(12)" style="font-family:'Liberation Serif',serif;font-size:36.48px;font-style:italic">α</text>
<text transform="translate(784.13,130.87) scale(1.0731,1)" style="font-family:'Liberation Serif',serif;font-size:35.42px">β</text>
<text transform="translate(910.03,131.30) scale(1.0968,1)" style="font-family:'Liberation Serif',serif;font-size:35.46px">λ</text>
<text transform="translate(683.50,134.02) scale(1.1605,1)" style="font-family:'Liberation Serif',serif;font-size:32.80px">=</text>
<text transform="translate(809.08,134.02) scale(1.1736,1)" style="font-family:'Liberation Serif',serif;font-size:32.80px">=</text>
<text transform="translate(934.38,134.02) scale(1.1736,1)" style="font-family:'Liberation Serif',serif;font-size:32.80px">=</text>
<text transform="translate(711.60,130.80) scale(1,1.045)">0.5</text>
<text transform="translate(766.48,130.80) scale(1,1.045)">,</text>
<text transform="translate(837.60,130.80) scale(1,1.045)">1</text>
<text transform="translate(855.43,130.80) scale(1,1.045)">.5</text>
<text transform="translate(891.48,130.80) scale(1,1.045)">,</text>
<text transform="translate(963.20,130.80) scale(1,1.045)">1</text>
<text transform="translate(658.01,171.64) scale(1.1194,1) skewX(12)" style="font-family:'Liberation Serif',serif;font-size:36.48px;font-style:italic">α</text>
<text transform="translate(784.13,171.27) scale(1.0731,1)" style="font-family:'Liberation Serif',serif;font-size:35.42px">β</text>
<text transform="translate(910.03,171.70) scale(1.0968,1)" style="font-family:'Liberation Serif',serif;font-size:35.46px">λ</text>
<text transform="translate(683.50,174.02) scale(1.1605,1)" style="font-family:'Liberation Serif',serif;font-size:32.80px">=</text>
<text transform="translate(809.08,174.02) scale(1.1736,1)" style="font-family:'Liberation Serif',serif;font-size:32.80px">=</text>
<text transform="translate(934.38,174.02) scale(1.1736,1)" style="font-family:'Liberation Serif',serif;font-size:32.80px">=</text>
<text transform="translate(711.60,171.20) scale(1,1.045)">0.5</text>
<text transform="translate(766.48,171.20) scale(1,1.045)">,</text>
<text transform="translate(837.60,171.20) scale(1,1.045)">1</text>
<text transform="translate(855.43,171.20) scale(1,1.045)">.5</text>
<text transform="translate(891.48,171.20) scale(1,1.045)">,</text>
<text transform="translate(962.20,171.20) scale(1,1.045)">2</text>
</svg></body></html>
